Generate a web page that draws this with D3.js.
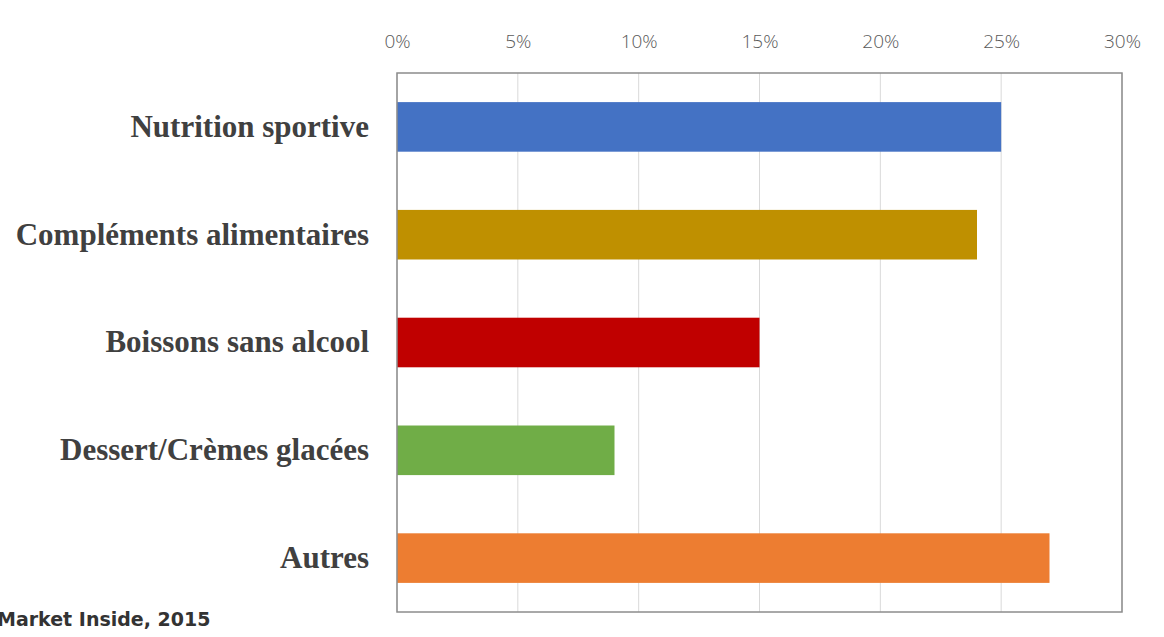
<!DOCTYPE html>
<html>
<head>
<meta charset="utf-8">
<script src="https://cdnjs.cloudflare.com/ajax/libs/d3/7.8.5/d3.min.js"></script>
<style>
  html, body { margin: 0; padding: 0; background: #fff; overflow: hidden; }
</style>
</head>
<body>
<div id="chart"></div>
<script>
// data
var categories = ["Nutrition sportive", "Compléments alimentaires", "Boissons sans alcool", "Dessert/Crèmes glacées", "Autres"];
var values = [25, 24, 15, 9, 27];
var colors = ["#4472C4", "#BF9000", "#C00000", "#70AD47", "#ED7D31"];
var tickValues = [0, 5, 10, 15, 20, 25, 30];
var source = "Market Inside, 2015";

var W = 1164, H = 637;
var margin = {top: 73, right: 42, bottom: 25, left: 397};
var width = W - margin.left - margin.right;
var height = H - margin.top - margin.bottom;

var svg = d3.select("#chart").append("svg")
	.attr("width", W)
	.attr("height", H);

var g = svg.append("g")
	.attr("transform", "translate(" + margin.left + "," + margin.top + ")");

var x = d3.scaleLinear()
	.domain([0, 30])
	.range([0, width]);

var y = d3.scaleBand()
	.domain(categories)
	.range([0, height])
	.paddingInner(0.54)
	.paddingOuter(0.27);

// gridlines
g.selectAll(".grid")
	.data(tickValues)
	.enter().append("line")
	.attr("class", "grid")
	.attr("x1", function(d) { return x(d); })
	.attr("x2", function(d) { return x(d); })
	.attr("y1", 0)
	.attr("y2", height)
	.style("stroke", "#d9d9d9")
	.style("stroke-width", 1);

// bars
g.selectAll(".bar")
	.data(values)
	.enter().append("rect")
	.attr("class", "bar")
	.attr("x", x(0))
	.attr("y", function(d, i) { return y(categories[i]); })
	.attr("width", function(d) { return x(d) - x(0); })
	.attr("height", y.bandwidth())
	.style("fill", function(d, i) { return colors[i]; });

// frame
g.append("rect")
	.attr("x", 0)
	.attr("y", 0)
	.attr("width", width)
	.attr("height", height)
	.style("fill", "none")
	.style("stroke", "#8c8c8c")
	.style("stroke-width", 1.5);

// top axis
var xAxis = g.append("g")
	.attr("transform", "translate(0,-22)")
	.call(d3.axisTop(x)
		.tickValues(tickValues)
		.tickSize(0)
		.tickFormat(function(d) { return d + "%"; }));
xAxis.select(".domain").remove();
xAxis.selectAll("text")
	.style("font-family", "'Open Sans', 'Liberation Sans', sans-serif")
	.style("font-size", "19px")
	.style("font-weight", "300")
	.style("fill", "#595959");

// category labels
var yAxis = g.append("g")
	.attr("transform", "translate(-25,0)")
	.call(d3.axisLeft(y).tickSize(0));
yAxis.select(".domain").remove();
yAxis.selectAll("text")
	.style("font-family", "'Liberation Serif', 'Times New Roman', serif")
	.style("font-size", "31px")
	.style("font-weight", "bold")
	.style("fill", "#404040");

// source note
svg.append("text")
	.attr("x", -3)
	.attr("y", 626)
	.text(source)
	.style("font-family", "'DejaVu Sans', Verdana, sans-serif")
	.style("font-size", "19px")
	.style("font-weight", "bold")
	.style("fill", "#333");
</script>
</body>
</html>
